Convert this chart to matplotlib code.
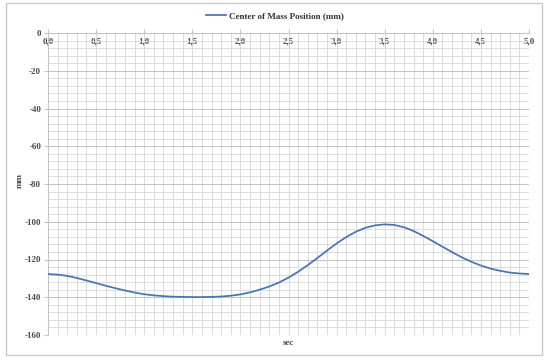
import matplotlib
matplotlib.use("Agg")
import matplotlib.pyplot as plt
import matplotlib.patches as mpatches
from matplotlib.ticker import MultipleLocator, FuncFormatter

# =============================================================================
# DATA (0.1 s steps)
# =============================================================================
time_s = [round(0.1 * i, 1) for i in range(51)]
com_mm = [
    -127.7, -128.0, -128.7, -129.8, -131.1, -132.5, -133.9, -135.2, -136.4, -137.5,
    -138.4, -139.0, -139.4, -139.7, -139.8, -139.9, -139.9, -139.8, -139.6, -139.2,
    -138.5, -137.4, -136.0, -134.3, -132.2, -129.6, -126.5, -123.0, -119.2, -115.3,
    -111.5, -108.1, -105.3, -103.2, -101.9, -101.4, -101.7, -102.9, -104.9, -107.5,
    -110.3, -113.2, -116.1, -118.8, -121.2, -123.2, -124.8, -126.0, -126.9, -127.4,
    -127.7,
]
series_label = "Center of Mass Position (mm)"
x_label = "sec"
y_label = "mm"

# =============================================================================
# STYLE
# =============================================================================
FONT = ["Liberation Serif", "DejaVu Serif"]
LINE_COLOR = "#4472C4"
MAJOR_GRID = "#c4c4c4"
MINOR_GRID = "#dadada"
TEXT_COLOR = "#4a4a4a"

W, H = 550, 363
fig = plt.figure(figsize=(W / 100, H / 100), dpi=100, facecolor="white")

# outer chart frame
fig.patches.append(mpatches.Rectangle(
    (6 / W, 1 - 355 / H), 536 / W, 352 / H, transform=fig.transFigure,
    facecolor="none", edgecolor="#c8c8c8", linewidth=1.0, zorder=0))

ax = fig.add_axes([48 / W, 1 - 335 / H, 481 / W, 302 / H])
ax.set_facecolor("white")

ax.plot(time_s, com_mm, color=LINE_COLOR, linewidth=1.25, label=series_label, zorder=3)

ax.set_xlim(0, 5)
ax.set_ylim(-160, 0)
ax.xaxis.set_major_locator(MultipleLocator(0.5))
ax.xaxis.set_minor_locator(MultipleLocator(0.1))
ax.yaxis.set_major_locator(MultipleLocator(20))
ax.yaxis.set_minor_locator(MultipleLocator(4))
# vertical lines all look alike; horizontal majors are a touch darker
ax.grid(which="both", axis="x", color=MINOR_GRID, linewidth=0.7, zorder=1)
ax.grid(which="major", axis="y", color=MAJOR_GRID, linewidth=0.75, zorder=1)
ax.grid(which="minor", axis="y", color=MINOR_GRID, linewidth=0.65, zorder=1)
ax.set_axisbelow(True)

ax.xaxis.set_major_formatter(FuncFormatter(lambda v, p: f"{v:.1f}".replace(".", ",")))
ax.yaxis.set_major_formatter(FuncFormatter(lambda v, p: f"{v:.0f}"))

# x axis crosses at y=0 (top), labels sit just under it
ax.tick_params(axis="x", which="major", top=True, bottom=False, labeltop=True,
               labelbottom=False, direction="out", length=3, color=MAJOR_GRID, pad=-12)
ax.tick_params(axis="x", which="minor", top=False, bottom=False)
ax.tick_params(axis="y", which="major", direction="out", length=3, color=MAJOR_GRID, pad=2)
ax.tick_params(axis="y", which="minor", left=False)

for lbl in ax.get_xticklabels() + ax.get_yticklabels():
    lbl.set_fontfamily(FONT)
    lbl.set_fontsize(6.5)
    lbl.set_fontweight("bold")
    lbl.set_color(TEXT_COLOR)

for spine in ["right", "bottom"]:
    ax.spines[spine].set_visible(False)
for spine in ["top", "left"]:
    ax.spines[spine].set_color(MAJOR_GRID)
    ax.spines[spine].set_linewidth(0.75)

fig.text(288 / W, 1 - 343 / H, x_label, ha="center", va="center",
         fontfamily=FONT, fontsize=6.5, fontweight="bold", color=TEXT_COLOR)
fig.text(20 / W, 1 - 180 / H, y_label, ha="center", va="center", rotation=90,
         fontfamily=FONT, fontsize=6.5, fontweight="bold", color=TEXT_COLOR)

ax.legend(loc="center", bbox_to_anchor=(275 / W, 1 - 16 / H), bbox_transform=fig.transFigure,
          frameon=False, handlelength=2.2, handletextpad=0.3,
          prop={"family": FONT, "size": 6.5, "weight": "bold"}, labelcolor="#333333")

fig.savefig("out.png", dpi=100, facecolor="white")
